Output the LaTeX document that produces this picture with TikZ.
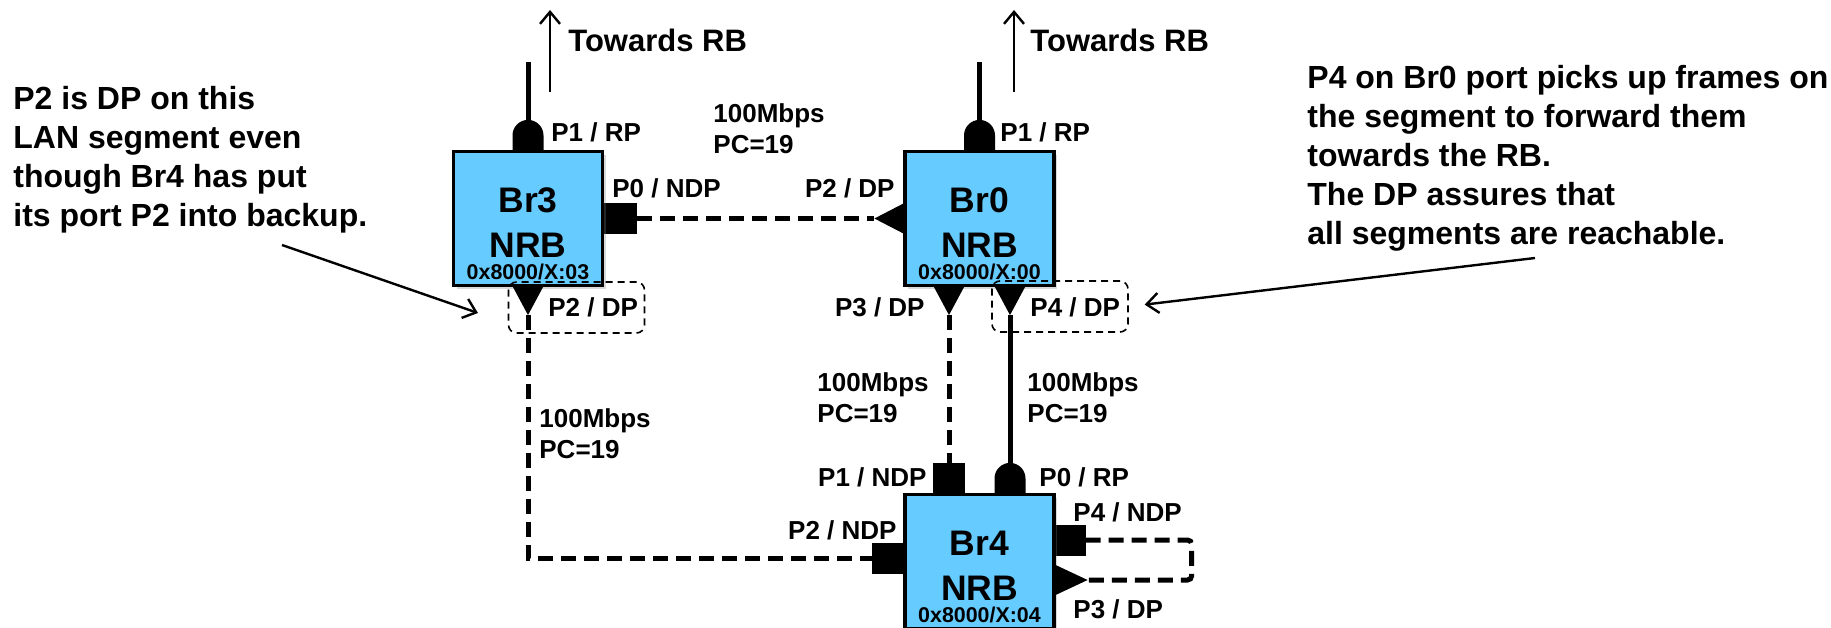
\documentclass[tikz,border=0pt]{standalone}
\usepackage{fontspec}
\setmainfont{Liberation Sans}
\usepackage{xcolor}
\usepackage{tikz}
\usetikzlibrary{arrows.meta}
\usetikzlibrary{shadows,backgrounds}
\usetikzlibrary{positioning}
\definecolor{brblue}{RGB}{102,204,255}

\begin{document}
\begin{tikzpicture}[x=0.5pt,y=-0.5pt,>={Straight Barb[length=6pt,width=10pt]},node distance=225.75pt]
 				 \tikzstyle{bridge}=[draw,line width=1.6pt,fill=brblue,minimum width=74.5pt,minimum height=67pt,inner sep=0pt,drop shadow={shadow xshift=1.5pt,shadow yshift=-1.5pt,opacity=0.3}]
 				 \tikzstyle{brname}=[inner sep=0pt,font=\fontsize{17.75}{21}\selectfont\bfseries]
 				 \tikzstyle{brid}=[inner sep=0pt,font=\fontsize{10.7}{12}\selectfont\bfseries]
 				 \tikzstyle{lbl}=[inner sep=0pt,align=left,font=\fontsize{13}{15.5}\selectfont\bfseries]
 				 \tikzstyle{note}=[inner sep=0pt,align=left,font=\fontsize{16}{19.5}\selectfont\bfseries]
 				 \tikzstyle{rp}=[fill,rectangle,minimum width=15.5pt,minimum height=30pt,rounded corners=7.75pt,inner sep=0pt,outer sep=0pt]
 				 \tikzstyle{ndpv}=[fill,rectangle,minimum width=16pt,minimum height=30pt,inner sep=0pt,outer sep=0pt]
 				 \tikzstyle{ndph}=[fill,rectangle,minimum width=31pt,minimum height=15.5pt,inner sep=0pt,outer sep=0pt]
 				 \tikzstyle{dpv}=[rectangle,minimum width=15pt,minimum height=14pt,inner sep=0pt,outer sep=0pt,anchor=north]
 				 \tikzstyle{dph}=[rectangle,minimum width=14.5pt,minimum height=15pt,inner sep=0pt,outer sep=0pt]
 				 \tikzstyle{portbox}=[draw,rectangle,rounded corners=4pt,line width=0.8pt,dash pattern=on 3.5pt off 2.5pt,minimum width=68pt,minimum height=25.5pt,inner sep=0pt]
 				 \tikzstyle{link}=[line width=2.5pt,dash pattern=on 7.5pt off 4pt]
 				 \tikzstyle{wire}=[line width=2.5pt]
 				 \tikzstyle{pointer}=[line width=1.2pt,->]
 					 \useasboundingbox (0,0) rectangle (1831,627);
 					 % bridges
 					 \node[bridge] 			(Br3) at (528,218.5)       		{};
 					 \node[bridge] 			(Br0) [right of=Br3]       		{};
 					 \node[bridge] 			(Br4) [below of=Br0, node distance=171.5pt] {};
 					 \node[brname] (br3a) at ([yshift=9.25pt]Br3.center) {Br3};
 					 \node[brname] (br3b) at ([yshift=-13.25pt]Br3.center) {NRB};
 					 \node[brid,anchor=base] (br3c) at ([yshift=-30.6pt]Br3.center) {0x8000/X:03};
 					 \node[brname] (br0a) at ([yshift=9.25pt]Br0.center) {Br0};
 					 \node[brname] (br0b) at ([yshift=-13.25pt]Br0.center) {NRB};
 					 \node[brid,anchor=base] (br0c) at ([yshift=-30.6pt]Br0.center) {0x8000/X:00};
 					 \node[brname] (br4a) at ([yshift=9.25pt]Br4.center) {Br4};
 					 \node[brname] (br4b) at ([yshift=-13.25pt]Br4.center) {NRB};
 					 \node[brid,anchor=base] (br4c) at ([yshift=-30.6pt]Br4.center) {0x8000/X:04};
 					 % ports
 					 \begin{scope}[on background layer]
 					 \node[rp]   (br3p1) at (Br3.north) {};
 					 \node[ndph,minimum width=33pt] (br3p0) at (Br3.east) {};
 					 \node[rp]   (br0p1) at (Br0.north) {};
 					 \node[ndpv] (br4p1) at ([xshift=-15.25pt]Br4.north) {};
 					 \node[rp]   (br4p0) at ([xshift=15.25pt]Br4.north) {};
 					 \node[ndph] (br4p2) at ([yshift=1.75pt]Br4.west) {};
 					 \node[ndph,minimum width=30pt] (br4p4) at ([yshift=10.75pt]Br4.east) {};
 					 \end{scope}
 					 \node[dpv]  (br3p2) at (Br3.south) {};
 					 \node[dph,anchor=east]  (br0p2) at (Br0.west) {};
 					 \node[dpv]  (br0p3) at ([xshift=-15.25pt]Br0.south) {};
 					 \node[dpv]  (br0p4) at ([xshift=15.25pt]Br0.south) {};
 					 \node[dph,anchor=west,minimum width=16pt] (br4p3) at ([yshift=-9.25pt]Br4.east) {};
 					 \fill (br3p2.north west) -- (br3p2.north east) -- (br3p2.south) -- cycle;
 					 \fill (br0p3.north west) -- (br0p3.north east) -- (br0p3.south) -- cycle;
 					 \fill (br0p4.north west) -- (br0p4.north east) -- (br0p4.south) -- cycle;
 					 \fill (br0p2.north east) -- (br0p2.south east) -- (br0p2.west) -- cycle;
 					 \fill (br4p3.north west) -- (br4p3.south west) -- (br4p3.east) -- cycle;
 					 \node[portbox] (br3p2box) at (576.5,307.5) {};
 					 \node[portbox] (br0p4box) at (1060,306.5) {};
 					 % port labels
 					 \node[lbl,anchor=west] (br3p1l) at (551,132) {P1 / RP};
 					 \node[lbl,anchor=west] (br3p0l) at (612,188) {P0 / NDP};
 					 \node[lbl,anchor=west] (br3p2l) at (548,307) {P2 / DP};
 					 \node[lbl,anchor=west] (br0p1l) at (1000,132) {P1 / RP};
 					 \node[lbl,anchor=east] (br0p2l) at (895,188) {P2 / DP};
 					 \node[lbl,anchor=east] (br0p3l) at (925,307) {P3 / DP};
 					 \node[lbl,anchor=west] (br0p4l) at (1030,307) {P4 / DP};
 					 \node[lbl,anchor=east] (br4p1l) at (927,477) {P1 / NDP};
 					 \node[lbl,anchor=west] (br4p0l) at (1039,477) {P0 / RP};
 					 \node[lbl,anchor=east] (br4p2l) at (897,530) {P2 / NDP};
 					 \node[lbl,anchor=west] (br4p4l) at (1073,512) {P4 / NDP};
 					 \node[lbl,anchor=west] (br4p3l) at (1073,609) {P3 / DP};
 					 % link labels
 					 \node[lbl,anchor=north west] (l30) at (713,103.3) {100Mbps\\PC=19};
 					 \node[lbl,anchor=north west] (l34) at (539,408.3) {100Mbps\\PC=19};
 					 \node[lbl,anchor=north west] (l04a) at (817,372.3) {100Mbps\\PC=19};
 					 \node[lbl,anchor=north west] (l04b) at (1027,372.3) {100Mbps\\PC=19};
 					 % towards the root bridge
 					 \node[lbl,anchor=west,font=\fontsize{15.5}{18}\selectfont\bfseries] (br3rb) at (568,40) {Towards RB};
 					 \node[lbl,anchor=west,font=\fontsize{15.5}{18}\selectfont\bfseries] (br0rb) at (1030,40) {Towards RB};
 					 \coordinate[above=29pt of br3p1.north] (br3up);
 					 \coordinate[above=29pt of br0p1.north] (br0up);
 					 \coordinate (br3rb1) at (550,92);
 					 \coordinate (br3rb2) at (550,10);
 					 \coordinate (br0rb1) at (1014,92);
 					 \coordinate (br0rb2) at (1014,10);
 					 % notes
 					 \node[note,anchor=north west] (lnote) at (13,86.2) {P2 is DP on this\\LAN segment even\\though Br4 has put\\its port P2 into backup.};
 					 \node[note,anchor=north west] (rnote) at (1307,65.2) {P4 on Br0 port picks up frames on\\the segment to forward them\\towards the RB.\\The DP assures that\\all segments are reachable.};
 					 \coordinate (lnote1) at (282,245);
 					 \coordinate (lnote2) at (478,313);
 					 \coordinate (rnote1) at (1535,258);
				\path
				(br3p1.north) edge [wire] (br3up)
				(br0p1.north) edge [wire] (br0up)
				(br3rb1) edge [pointer] (br3rb2)
				(br0rb1) edge [pointer] (br0rb2)
				(br3p0.east) edge [link] (br0p2.west)
				(br0p3.south) edge [link] (br4p1.north)
				(br0p4.south) edge [wire] (br4p0.north)
				(lnote1) edge [pointer] (lnote2)
				(rnote1) edge [pointer,shorten >=8pt] (br0p4box.east);
				\draw[link] (br3p2.south) |- (br4p2.west);
				\draw[link,rounded corners=2pt] (br4p4.east) -- ++(106,0) |- (br4p3.east);
\end{tikzpicture}
\end{document}
